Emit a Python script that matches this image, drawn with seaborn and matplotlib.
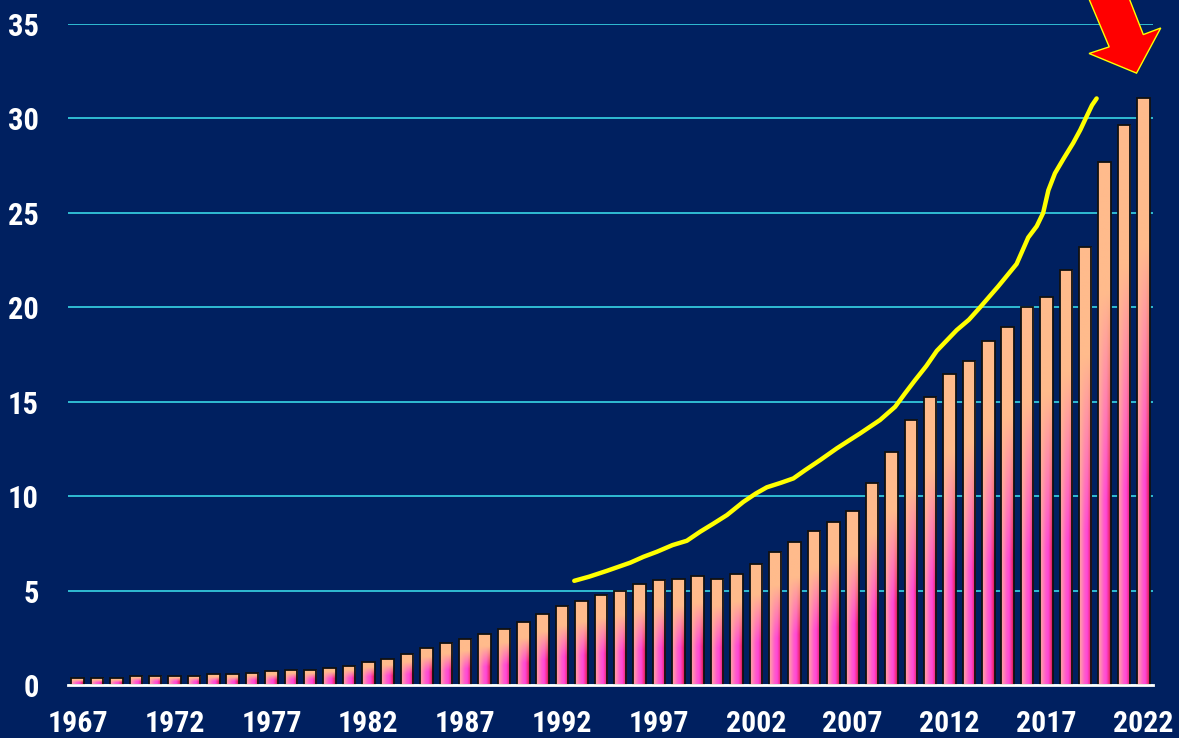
import numpy as np
import matplotlib
matplotlib.use("Agg")
import matplotlib.pyplot as plt
from matplotlib.patches import Polygon
import seaborn as sns

# yearly bars, 1967-2022
years = list(range(1967, 2023))
values = [0.37, 0.37, 0.37, 0.48, 0.48, 0.48, 0.48, 0.58, 0.58, 0.67,
          0.74, 0.83, 0.83, 0.92, 1.02, 1.22, 1.39, 1.64, 1.98, 2.22,
          2.43, 2.70, 2.98, 3.33, 3.80, 4.22, 4.48, 4.76, 4.97, 5.34,
          5.55, 5.60, 5.80, 5.60, 5.91, 6.40, 7.03, 7.60, 8.18, 8.64,
          9.20, 10.72, 12.33, 14.02, 15.26, 16.50, 17.16, 18.20, 18.94, 20.00,
          20.56, 21.97, 23.19, 27.72, 29.63, 31.06]

# hand-drawn yellow trend curve (x in fractional years)
trend_years = [1992.63, 1993.40, 1994.32, 1995.52, 1996.20, 1996.90, 1997.70,
               1998.44, 1999.13, 1999.80, 2000.51, 2001.36, 2002.00, 2002.57,
               2003.30, 2003.94, 2004.55, 2005.32, 2006.18, 2006.80, 2007.38,
               2008.41, 2009.19, 2009.70, 2010.22, 2010.80, 2011.34, 2012.37,
               2013.00, 2013.57, 2014.50, 2015.46, 2016.06, 2016.50, 2016.83,
               2017.10, 2017.44, 2017.90, 2018.38, 2018.75, 2019.07, 2019.35,
               2019.59]
trend_values = [5.53, 5.75, 6.06, 6.49, 6.80, 7.07, 7.42,
                7.65, 8.13, 8.55, 9.01, 9.71, 10.15, 10.48,
                10.72, 10.95, 11.39, 11.92, 12.54, 12.95, 13.33,
                14.04, 14.74, 15.45, 16.15, 16.90, 17.70, 18.80,
                19.35, 20.00, 21.10, 22.30, 23.70, 24.30, 25.00,
                26.20, 27.10, 27.90, 28.70, 29.40, 30.10, 30.70,
                31.06]

tick_years = [1967, 1972, 1977, 1982, 1987, 1992, 1997, 2002, 2007, 2012, 2017, 2022]
y_ticks = [0, 5, 10, 15, 20, 25, 30, 35]

NAVY = "#002060"
GRID = "#33C8DC"

sns.set_theme(style="white")
plt.rcParams["font.family"] = ["Roboto Condensed", "DejaVu Sans Condensed",
                               "Liberation Sans Narrow", "Liberation Sans"]
plt.rcParams["font.weight"] = "bold"

fig = plt.figure(figsize=(11.79, 7.38), dpi=100, facecolor=NAVY)
ax = fig.add_axes([68 / 1179, 52.7 / 738, 1085 / 1179, 661.3 / 738])
ax.set_facecolor(NAVY)

sns.barplot(x=years, y=values, width=0.65, color="#FFBB8C", edgecolor="#111111",
            linewidth=1.3, errorbar=None, ax=ax, zorder=3)

# gradient fill: peach on top, pink/magenta/red across the lower part
ny, nx = 200, 40
u = np.linspace(0, 1, nx)
v = np.linspace(0, 1, ny)
stops = [0.0, 0.15, 0.45, 0.65, 0.85, 1.0]
cols = np.array([[255, 160, 150], [255, 145, 175], [255, 90, 205],
                 [255, 70, 215], [240, 45, 130], [200, 20, 60]]) / 255
bottom = np.stack([np.interp(u, stops, cols[:, k]) for k in range(3)], axis=1)
top = np.array([255, 187, 140]) / 255
w = 1 - np.clip((v - 0.35) / 0.4, 0, 1)
grad = w[:, None, None] * bottom[None, :, :] + (1 - w[:, None, None]) * top[None, None, :]

for p in ax.patches:
    x0, w_ = p.get_x(), p.get_width()
    h = p.get_height()
    im = ax.imshow(grad, extent=[x0, x0 + w_, 0, h], origin="lower",
                   aspect="auto", zorder=2.9, interpolation="bilinear")
    im.set_clip_path(p)
    p.set_facecolor("none")

# yellow trend curve
sns.lineplot(x=[y - years[0] for y in trend_years], y=trend_values, sort=False,
             color="#FFFF00", linewidth=3.2, ax=ax, zorder=4,
             solid_capstyle="round", solid_joinstyle="round")

# red arrow pointing at the last bar
n = len(values) - 1
top_v = values[-1]
arrow = [(-0.35, 1.34), (-2.8, 2.38), (-1.76, 2.73), (-3.0, 5.74),
         (-0.9, 5.74), (0.0, 3.38), (0.9, 3.73)]
ax.add_patch(Polygon([(n + dx, top_v + dy) for dx, dy in arrow], closed=True,
                     facecolor="#FF0000", edgecolor="#FFFF00", linewidth=1,
                     clip_on=False, zorder=5))

ax.set_xlim(-0.5, len(years) - 0.5)
ax.set_ylim(0, 35)
ax.set_yticks(y_ticks)
ax.set_yticklabels([str(y) for y in y_ticks])
ax.set_xticks([y - years[0] for y in tick_years])
ax.set_xticklabels([str(y) for y in tick_years])
ax.set_xticks(np.arange(-0.5, len(years), 1.0), minor=True)

ax.grid(axis="y", color=GRID, linewidth=1.3, zorder=1)
ax.grid(axis="x", visible=False)
ax.set_axisbelow(True)
for s in ["top", "right", "left"]:
    ax.spines[s].set_visible(False)
ax.spines["bottom"].set_color("white")
ax.spines["bottom"].set_linewidth(2)
ax.spines["bottom"].set_zorder(6)

ax.tick_params(axis="y", length=0, pad=21, labelsize=22, labelcolor="white")
ax.tick_params(axis="x", which="major", length=0, pad=18, labelsize=21.5, labelcolor="white")
ax.tick_params(axis="x", which="minor", length=6, width=1.5, color="white", direction="out")
ax.set_xlabel("")
ax.set_ylabel("")

fig.savefig("out.png", dpi=100, facecolor=NAVY)
